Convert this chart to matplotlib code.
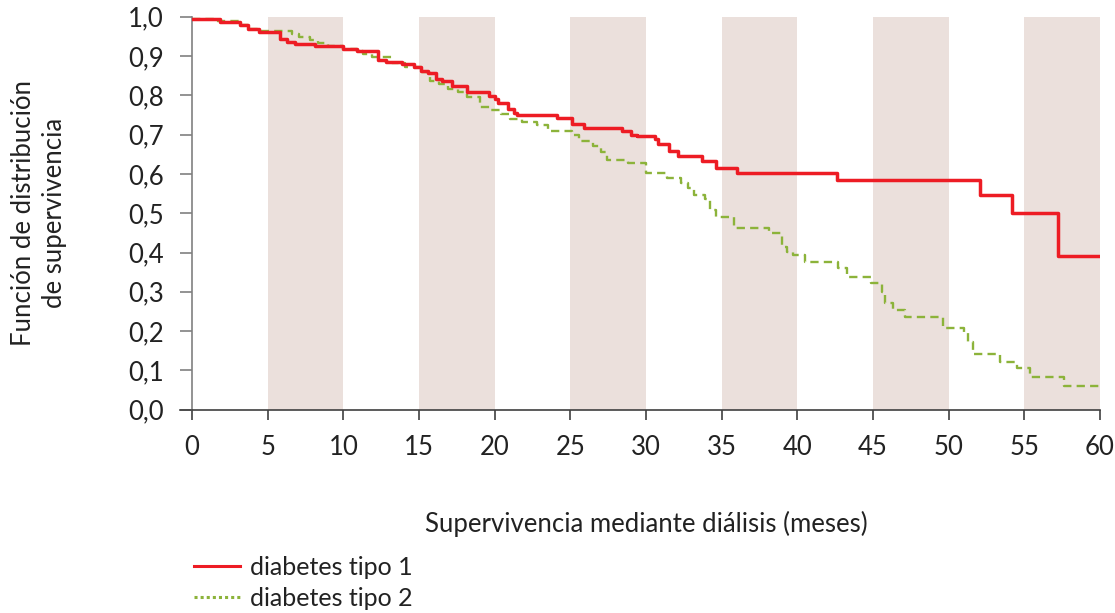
import matplotlib
matplotlib.use("Agg")
import matplotlib.pyplot as plt
from matplotlib.lines import Line2D

plt.rcParams["font.family"] = ["Lato", "DejaVu Sans"]

# Curvas de supervivencia (meses, probabilidad), escalonadas
meses_t1 = [0, 1.85, 3.2, 3.7, 4.4, 5.8, 6.3, 6.8, 8.1, 10.0, 10.9, 12.3, 12.8,
            13.9, 14.7, 15.1, 15.6, 16.1, 16.5, 17.2, 18.2, 19.6, 20.0, 20.2,
            20.9, 21.3, 21.5, 24.1, 25.1, 25.9, 28.4, 29.0, 29.4, 30.6, 30.8,
            31.5, 32.1, 33.7, 34.6, 36.0, 42.6, 52.1, 54.2, 57.2, 60]
surv_t1 = [0.995, 0.986, 0.978, 0.969, 0.96, 0.944, 0.935, 0.93, 0.925, 0.918,
           0.912, 0.89, 0.886, 0.88, 0.871, 0.863, 0.857, 0.841, 0.836, 0.824,
           0.809, 0.799, 0.79, 0.78, 0.765, 0.754, 0.75, 0.742, 0.726, 0.718,
           0.709, 0.70, 0.696, 0.688, 0.675, 0.657, 0.645, 0.632, 0.616, 0.603,
           0.584, 0.547, 0.501, 0.39, 0.39]

meses_t2 = [0, 1.5, 3.2, 3.7, 4.4, 6.6, 7.1, 7.8, 8.3, 9.0, 10.0, 10.9, 11.3,
            11.9, 13.2, 14.1, 15.2, 15.7, 16.3, 16.9, 17.6, 18.2, 19.0, 19.7,
            20.4, 21.0, 21.8, 22.8, 23.5, 25.1, 25.6, 26.5, 27.0, 27.4, 28.8,
            30.0, 31.4, 32.3, 32.8, 33.2, 33.9, 34.2, 34.6, 35.8, 38.1, 39.0,
            39.3, 39.7, 40.5, 42.7, 43.3, 44.9, 45.6, 45.8, 46.3, 47.1, 49.6,
            51.0, 51.3, 51.6, 53.4, 54.5, 55.4, 57.6, 60]
surv_t2 = [0.995, 0.988, 0.978, 0.969, 0.963, 0.955, 0.949, 0.94, 0.933, 0.925,
           0.918, 0.912, 0.905, 0.898, 0.882, 0.872, 0.859, 0.836, 0.829, 0.815,
           0.808, 0.795, 0.77, 0.762, 0.752, 0.739, 0.732, 0.724, 0.709, 0.698,
           0.684, 0.67, 0.655, 0.635, 0.628, 0.602, 0.59, 0.578, 0.565, 0.547,
           0.535, 0.509, 0.491, 0.463, 0.45, 0.415, 0.402, 0.394, 0.377, 0.361,
           0.338, 0.322, 0.299, 0.271, 0.253, 0.236, 0.207, 0.194, 0.172, 0.143,
           0.121, 0.105, 0.083, 0.061, 0.061]

franjas = [(5, 10), (15, 20), (25, 30), (35, 40), (45, 50), (55, 60)]
xticks = list(range(0, 61, 5))
yticks = [i / 10 for i in range(11)]
etiquetas = ["diabetes tipo 1", "diabetes tipo 2"]

ROJO = "#ed1c24"
VERDE = "#8cb33a"
TEXTO = "#222222"

fig = plt.figure(figsize=(11.15, 6.13), dpi=100)
ax = fig.add_axes([192 / 1115, 1 - 409.7 / 613, 908 / 1115, 393 / 613])

for a, b in franjas:
    ax.axvspan(a, b, ymin=0, ymax=1, color="#ebe0dc", lw=0, zorder=0)

ax.step(meses_t2, surv_t2, where="post", color=VERDE, lw=1.7,
        linestyle=(0, (3.5, 2.2)), zorder=2)
ax.step(meses_t1, surv_t1, where="post", color=ROJO, lw=2.5, zorder=3)

ax.set_xlim(0, 60)
ax.set_ylim(0, 1)
ax.set_xticks(xticks)
ax.set_yticks(yticks)
ax.set_yticklabels([f"{v:.1f}".replace(".", ",") for v in yticks])

for s in ["top", "right"]:
    ax.spines[s].set_visible(False)
ax.spines["left"].set_color("#808080")
ax.spines["left"].set_linewidth(1.2)
ax.spines["bottom"].set_color("#404040")
ax.spines["bottom"].set_linewidth(1.2)
# prolongar el eje x un poco a la izquierda del eje y
ax.plot([-0.8, 0], [0, 0], color="#404040", lw=1.2, clip_on=False)

ax.tick_params(axis="y", direction="out", length=8.5, width=1.2,
               color="#808080", pad=12, labelsize=18.5, labelcolor=TEXTO)
ax.tick_params(axis="x", direction="out", length=7.5, width=1.2,
               color="#404040", pad=11, labelsize=18.5, labelcolor=TEXTO)

ax.set_xlabel("Supervivencia mediante diálisis (meses)", fontsize=18.5,
              color=TEXTO, labelpad=36)
ax.set_ylabel("Función de distribución\nde supervivencia", fontsize=18.5,
              color=TEXTO, labelpad=44, linespacing=1.3)

handles = [Line2D([], [], color=ROJO, lw=2.2),
           Line2D([], [], color=VERDE, lw=2.2, linestyle=(0, (1, 1)))]
fig.legend(handles, etiquetas, loc="upper left",
           bbox_to_anchor=(194 / 1115, 1 - 556 / 613), frameon=False,
           fontsize=18, handlelength=1.85, handletextpad=0.4,
           labelspacing=0.3, borderpad=0, borderaxespad=0,
           labelcolor=TEXTO)

fig.savefig("out.png", dpi=100)
